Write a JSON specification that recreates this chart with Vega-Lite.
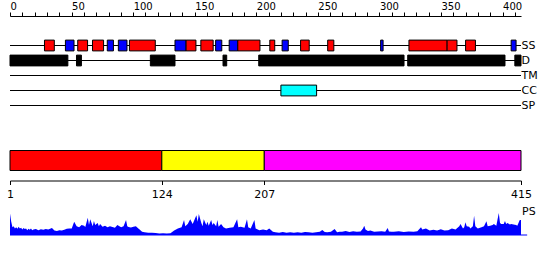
{
  "$schema": "https://vega.github.io/schema/vega-lite/v6.json",
  "padding": {"left": 6, "top": 1, "right": 0, "bottom": 0},
  "background": "white",
  "config": {
    "view": {"stroke": null},
    "font": "DejaVu Sans",
    "axis": {"labelFont": "DejaVu Sans", "labelColor": "black", "domainColor": "black", "tickColor": "black", "grid": false, "domainWidth": 1, "tickWidth": 1}
  },
  "datasets": {
    "tracks": [{"track": "SS"}, {"track": "D"}, {"track": "TM"}, {"track": "CC"}, {"track": "SP"}],
    "features": [
      {"track": "SS", "start": 28, "end": 36, "type": "H"},
      {"track": "SS", "start": 45, "end": 52, "type": "E"},
      {"track": "SS", "start": 55, "end": 63, "type": "H"},
      {"track": "SS", "start": 67, "end": 76, "type": "H"},
      {"track": "SS", "start": 79, "end": 84, "type": "E"},
      {"track": "SS", "start": 88, "end": 95, "type": "E"},
      {"track": "SS", "start": 97, "end": 118, "type": "H"},
      {"track": "SS", "start": 134, "end": 143, "type": "E"},
      {"track": "SS", "start": 143, "end": 151, "type": "H"},
      {"track": "SS", "start": 155, "end": 165, "type": "H"},
      {"track": "SS", "start": 167, "end": 172, "type": "E"},
      {"track": "SS", "start": 178, "end": 185, "type": "E"},
      {"track": "SS", "start": 185, "end": 203, "type": "H"},
      {"track": "SS", "start": 211, "end": 215, "type": "H"},
      {"track": "SS", "start": 221, "end": 226, "type": "E"},
      {"track": "SS", "start": 236, "end": 243, "type": "H"},
      {"track": "SS", "start": 258, "end": 263, "type": "H"},
      {"track": "SS", "start": 301, "end": 303, "type": "E"},
      {"track": "SS", "start": 324, "end": 355, "type": "H"},
      {"track": "SS", "start": 355, "end": 363, "type": "H"},
      {"track": "SS", "start": 370, "end": 378, "type": "H"},
      {"track": "SS", "start": 407, "end": 411, "type": "E"},
      {"track": "D", "start": 0, "end": 47, "type": "D"},
      {"track": "D", "start": 54, "end": 58, "type": "D"},
      {"track": "D", "start": 114, "end": 134, "type": "D"},
      {"track": "D", "start": 173, "end": 176, "type": "D"},
      {"track": "D", "start": 202, "end": 320, "type": "D"},
      {"track": "D", "start": 323, "end": 402, "type": "D"},
      {"track": "D", "start": 410, "end": 415, "type": "D"},
      {"track": "CC", "start": 220, "end": 249, "type": "C"}
    ],
    "domains": [
      {"name": "A", "start": 1, "end": 124},
      {"name": "B", "start": 124, "end": 207},
      {"name": "C", "start": 207, "end": 415}
    ],
    "ps": [
      {"r":1,"v":0.98},{"r":2,"v":0.6},{"r":3,"v":0.35},{"r":4,"v":0.4},{"r":5,"v":0.3},{"r":6,"v":0.35},{"r":7,"v":0.28},{"r":8,"v":0.38},{"r":9,"v":0.3},{"r":10,"v":0.33},
      {"r":11,"v":0.25},{"r":12,"v":0.32},{"r":13,"v":0.27},{"r":14,"v":0.3},{"r":15,"v":0.22},{"r":16,"v":0.28},{"r":17,"v":0.24},{"r":18,"v":0.3},{"r":19,"v":0.22},{"r":20,"v":0.25},
      {"r":22,"v":0.27},{"r":24,"v":0.22},{"r":26,"v":0.26},{"r":28,"v":0.24},{"r":30,"v":0.27},{"r":32,"v":0.25},{"r":34,"v":0.3},{"r":35,"v":0.32},{"r":37,"v":0.2},{"r":39,"v":0.18},
      {"r":41,"v":0.22},{"r":43,"v":0.2},{"r":45,"v":0.24},{"r":47,"v":0.28},{"r":49,"v":0.3},{"r":51,"v":0.3},{"r":53,"v":0.6},{"r":55,"v":0.4},{"r":57,"v":0.35},{"r":59,"v":0.45},
      {"r":61,"v":0.42},{"r":62,"v":0.36},{"r":64,"v":0.78},{"r":65,"v":0.45},{"r":66,"v":0.72},{"r":68,"v":0.4},{"r":69,"v":0.64},{"r":70,"v":0.45},{"r":72,"v":0.55},{"r":73,"v":0.4},
      {"r":74,"v":0.5},{"r":76,"v":0.38},{"r":78,"v":0.42},{"r":80,"v":0.35},{"r":82,"v":0.4},{"r":84,"v":0.36},{"r":86,"v":0.33},{"r":88,"v":0.45},{"r":91,"v":0.35},{"r":93,"v":0.4},
      {"r":95,"v":0.68},{"r":96,"v":0.4},{"r":97,"v":0.36},{"r":99,"v":0.34},{"r":101,"v":0.38},{"r":103,"v":0.4},{"r":105,"v":0.3},{"r":106,"v":0.25},{"r":108,"v":0.15},{"r":110,"v":0.12},
      {"r":113,"v":0.1},{"r":116,"v":0.1},{"r":119,"v":0.09},{"r":122,"v":0.07},{"r":125,"v":0.08},{"r":128,"v":0.07},{"r":131,"v":0.08},{"r":134,"v":0.2},{"r":137,"v":0.3},{"r":140,"v":0.35},
      {"r":142,"v":0.68},{"r":143,"v":0.4},{"r":145,"v":0.5},{"r":147,"v":0.72},{"r":149,"v":0.5},{"r":152,"v":0.9},{"r":153,"v":0.6},{"r":154,"v":0.95},{"r":156,"v":0.55},{"r":157,"v":0.4},
      {"r":158,"v":0.72},{"r":160,"v":0.45},{"r":161,"v":0.6},{"r":162,"v":0.42},{"r":164,"v":0.68},{"r":165,"v":0.45},{"r":166,"v":0.55},{"r":168,"v":0.4},{"r":169,"v":0.68},{"r":170,"v":0.38},
      {"r":172,"v":0.5},{"r":174,"v":0.35},{"r":176,"v":0.3},{"r":179,"v":0.33},{"r":182,"v":0.35},{"r":185,"v":0.72},{"r":186,"v":0.35},{"r":188,"v":0.38},{"r":191,"v":0.33},{"r":193,"v":0.72},
      {"r":194,"v":0.35},{"r":196,"v":0.3},{"r":199,"v":0.68},{"r":200,"v":0.3},{"r":203,"v":0.22},{"r":206,"v":0.25},{"r":209,"v":0.22},{"r":211,"v":0.3},{"r":214,"v":0.15},{"r":216,"v":0.12},
      {"r":219,"v":0.1},{"r":222,"v":0.14},{"r":225,"v":0.1},{"r":228,"v":0.13},{"r":231,"v":0.1},{"r":234,"v":0.12},{"r":237,"v":0.1},{"r":240,"v":0.14},{"r":243,"v":0.12},{"r":246,"v":0.1},
      {"r":249,"v":0.12},{"r":252,"v":0.15},{"r":254,"v":0.23},{"r":256,"v":0.14},{"r":258,"v":0.12},{"r":261,"v":0.15},{"r":264,"v":0.27},{"r":266,"v":0.12},{"r":268,"v":0.15},{"r":270,"v":0.15},
      {"r":273,"v":0.18},{"r":276,"v":0.14},{"r":279,"v":0.17},{"r":282,"v":0.15},{"r":285,"v":0.16},{"r":287,"v":0.3},{"r":288,"v":0.42},{"r":289,"v":0.25},{"r":291,"v":0.18},{"r":293,"v":0.2},
      {"r":296,"v":0.15},{"r":299,"v":0.16},{"r":302,"v":0.17},{"r":305,"v":0.15},{"r":307,"v":0.32},{"r":308,"v":0.16},{"r":310,"v":0.15},{"r":312,"v":0.15},{"r":316,"v":0.17},{"r":320,"v":0.14},
      {"r":324,"v":0.16},{"r":328,"v":0.15},{"r":331,"v":0.17},{"r":334,"v":0.35},{"r":335,"v":0.25},{"r":338,"v":0.3},{"r":341,"v":0.2},{"r":344,"v":0.24},{"r":347,"v":0.2},{"r":350,"v":0.26},
      {"r":353,"v":0.2},{"r":356,"v":0.22},{"r":359,"v":0.3},{"r":362,"v":0.25},{"r":365,"v":0.4},{"r":366,"v":0.5},{"r":368,"v":0.3},{"r":369,"v":0.35},{"r":370,"v":0.58},{"r":371,"v":0.4},
      {"r":373,"v":0.38},{"r":374,"v":0.3},{"r":376,"v":0.4},{"r":377,"v":0.88},{"r":378,"v":0.4},{"r":380,"v":0.3},{"r":383,"v":0.35},{"r":385,"v":0.4},{"r":387,"v":0.62},{"r":388,"v":0.4},
      {"r":390,"v":0.42},{"r":392,"v":0.45},{"r":393,"v":0.5},{"r":395,"v":0.42},{"r":397,"v":1.0},{"r":398,"v":0.55},{"r":399,"v":0.5},{"r":401,"v":0.5},{"r":402,"v":0.64},{"r":403,"v":0.5},
      {"r":404,"v":0.55},{"r":406,"v":0.48},{"r":407,"v":0.5},{"r":409,"v":0.48},{"r":411,"v":0.45},{"r":412,"v":0.42},{"r":414,"v":0.68},{"r":415,"v":0.68}
    ]
  },
  "bounds": "flush",
  "spacing": 37.5,
  "resolve": {"scale": {"x": "independent", "y": "independent", "color": "independent"}},
  "vconcat": [
    {
      "width": 511,
      "height": 75,
      "layer": [
        {
          "data": {"name": "tracks"},
          "mark": {"type": "rule", "color": "black", "strokeWidth": 1},
          "encoding": {
            "y": {"field": "track", "type": "nominal", "scale": {"domain": ["SS", "D", "TM", "CC", "SP"], "paddingInner": 0, "paddingOuter": 0},
                  "axis": {"orient": "right", "domain": false, "ticks": false, "labelPadding": 0, "labelFontSize": 11, "labelAlign": "left", "title": null}},
            "x": {"datum": 0, "type": "quantitative", "scale": {"domain": [0, 415], "nice": false, "zero": false},
                  "axis": {"orient": "top", "values": [0,10,20,30,40,50,60,70,80,90,100,110,120,130,140,150,160,170,180,190,200,210,220,230,240,250,260,270,280,290,300,310,320,330,340,350,360,370,380,390,400,410],
                           "labelExpr": "datum.value % 50 === 0 ? datum.label : ''", "offset": 22, "tickSize": 4, "labelAlign": "left", "labelFontSize": 10, "labelPadding": 1, "title": null, "labelFlush": false, "labelOverlap": false}},
            "x2": {"datum": 415}
          }
        },
        {
          "data": {"name": "features"},
          "mark": {"type": "bar", "height": {"band": 0.72}, "stroke": "black", "strokeWidth": 1},
          "encoding": {
            "y": {"field": "track", "type": "nominal"},
            "x": {"field": "start", "type": "quantitative",
                  "axis": {"orient": "top", "values": [0,10,20,30,40,50,60,70,80,90,100,110,120,130,140,150,160,170,180,190,200,210,220,230,240,250,260,270,280,290,300,310,320,330,340,350,360,370,380,390,400,410],
                           "labelExpr": "datum.value % 50 === 0 ? datum.label : ''", "offset": 22, "tickSize": 4, "labelAlign": "left", "labelFontSize": 10, "labelPadding": 1, "title": null, "labelFlush": false, "labelOverlap": false}},
            "x2": {"field": "end"},
            "color": {"field": "type", "type": "nominal", "scale": {"domain": ["H", "E", "D", "C"], "range": ["#ff0000", "#0000ff", "#000000", "#00ffff"]}, "legend": null}
          }
        }
      ]
    },
    {
      "bounds": "flush",
      "spacing": 42.5,
      "resolve": {"scale": {"x": "independent", "y": "independent", "color": "independent"}},
      "vconcat": [
        {
          "width": 511,
          "height": 20,
          "data": {"name": "domains"},
          "mark": {"type": "rect", "stroke": "black", "strokeWidth": 1},
          "encoding": {
            "x": {"field": "start", "type": "quantitative", "scale": {"domain": [1, 415], "nice": false, "zero": false},
                  "axis": {"orient": "bottom", "values": [1, 124, 207, 415], "offset": 10, "tickSize": 4, "labelFontSize": 11, "labelPadding": 4, "title": null, "labelFlush": false, "labelOverlap": false}},
            "x2": {"field": "end"},
            "color": {"field": "name", "type": "nominal", "scale": {"domain": ["A", "B", "C"], "range": ["#ff0000", "#ffff00", "#ff00ff"]}, "legend": null}
          }
        },
        {
          "width": 511,
          "height": 22,
          "layer": [
            {
              "data": {"name": "ps"},
              "mark": {"type": "area", "color": "#0000ff", "interpolate": "linear"},
              "encoding": {
                "x": {"field": "r", "type": "quantitative", "scale": {"domain": [1, 415], "nice": false, "zero": false}, "axis": null},
                "y": {"field": "v", "type": "quantitative", "scale": {"domain": [0, 1], "nice": false}, "axis": null}
              }
            },
            {
              "data": {"values": [{"from": 1, "to": 420}]},
              "mark": {"type": "rule", "color": "#0000ff", "strokeWidth": 1},
              "encoding": {
                "x": {"field": "from", "type": "quantitative"},
                "x2": {"field": "to"},
                "y": {"datum": 0}
              }
            },
            {
              "data": {"values": [{"label": "PS"}]},
              "mark": {"type": "text", "align": "left", "baseline": "alphabetic", "fontSize": 11, "dx": 1, "dy": 2, "color": "black"},
              "encoding": {
                "text": {"field": "label"},
                "x": {"datum": 415},
                "y": {"datum": 1}
              }
            }
          ]
        }
      ]
    }
  ]
}
